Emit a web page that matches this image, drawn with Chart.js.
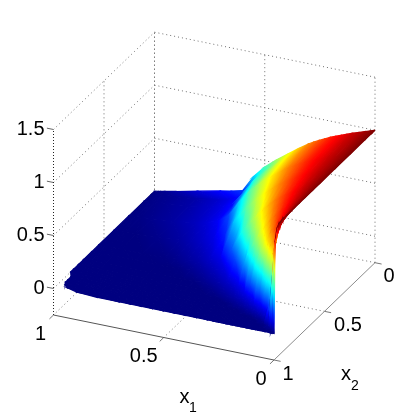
<!DOCTYPE html>
<html>
<head>
<meta charset="utf-8">
<style>
  html, body { margin: 0; padding: 0; background: #fff; }
  canvas { display: block; }
</style>
<script src="https://cdn.jsdelivr.net/npm/chart.js@4/dist/chart.umd.min.js"></script>
</head>
<body>
<canvas id="chart" width="415" height="418"></canvas>
<script>
// Tick labels
const x1Ticks = [0, 0.5, 1];
const x2Ticks = [0, 0.5, 1];
const zTicks = [0, 0.5, 1, 1.5];
const zBottom = -0.25;
const zTop = 1.5;

// Surface samples
const x1Values = [0, 0.01, 0.02, 0.04, 0.07, 0.1, 0.125, 0.15, 0.175, 0.2, 0.225, 0.25, 0.275, 0.3, 0.35, 0.4, 0.45, 0.5, 0.55, 0.6, 0.65, 0.7, 0.8, 0.9, 0.95, 0.97, 0.98, 1];
const x2Values = [0, 0.03, 0.1, 0.25, 0.4, 0.55, 0.62, 0.7, 0.75, 0.8, 0.83, 0.87, 0.9, 0.92, 0.95, 0.97, 0.99, 1];

// one row per x2 value, one column per x1 value; null = outside the rounded corner
const zRow00 = [1, 0.993, 0.986, 0.972, 0.95, 0.93, 0.91, 0.89, 0.87, 0.85, 0.825, 0.8, 0.773, 0.745, 0.675, 0.6, 0.525, 0.44, 0.33, 0.175, 0.15, 0.13, 0.085, 0.04, 0.02, 0.012, 0.008, 0];
const zRow01 = [1, 0.993, 0.986, 0.972, 0.95, 0.93, 0.91, 0.89, 0.87, 0.85, 0.825, 0.8, 0.773, 0.745, 0.675, 0.6, 0.51, 0.42, 0.28, 0.14, 0.1, 0.075, 0.04, 0.02, 0.012, 0.009, 0.007, 0];
const zRow02 = [1, 0.993, 0.986, 0.972, 0.949, 0.93, 0.909, 0.888, 0.868, 0.848, 0.823, 0.797, 0.769, 0.741, 0.67, 0.593, 0.502, 0.41, 0.27, 0.135, 0.097, 0.072, 0.038, 0.019, 0.011, 0.008, 0.006, 0];
const zRow03 = [1, 0.993, 0.985, 0.97, 0.948, 0.926, 0.904, 0.884, 0.863, 0.84, 0.813, 0.786, 0.757, 0.723, 0.648, 0.566, 0.467, 0.34, 0.19, 0.115, 0.083, 0.06, 0.032, 0.013, 0.005, 0.003, 0.002, 0];
const zRow04 = [1, 0.992, 0.983, 0.966, 0.942, 0.915, 0.891, 0.867, 0.842, 0.812, 0.78, 0.747, 0.707, 0.664, 0.57, 0.463, 0.33, 0.15, 0.097, 0.07, 0.05, 0.033, 0.012, 0, 0, 0, 0, 0];
const zRow05 = [1, 0.99, 0.98, 0.96, 0.93, 0.894, 0.865, 0.833, 0.796, 0.756, 0.709, 0.657, 0.6, 0.537, 0.4, 0.2, 0.098, 0.067, 0.041, 0.026, 0.013, 0.004, 0, 0, 0, 0, 0, 0];
const zRow06 = [1, 0.988, 0.977, 0.953, 0.916, 0.876, 0.841, 0.799, 0.753, 0.696, 0.635, 0.566, 0.49, 0.41, 0.18, 0.09, 0.056, 0.032, 0.016, 0.004, 0, 0, 0, 0, 0, 0, 0, 0];
const zRow07 = [1, 0.986, 0.971, 0.943, 0.895, 0.846, 0.795, 0.737, 0.665, 0.586, 0.494, 0.396, 0.25, 0.13, 0.07, 0.037, 0.017, 0.002, 0, 0, 0, 0, 0, 0, 0, 0, 0, 0];
const zRow08 = [1, 0.983, 0.966, 0.933, 0.875, 0.809, 0.744, 0.658, 0.56, 0.452, 0.32, 0.135, 0.094, 0.064, 0.032, 0.01, 0, 0, 0, 0, 0, 0, 0, 0, 0, 0, 0, 0];
const zRow09 = [1, 0.98, 0.958, 0.916, 0.844, 0.752, 0.648, 0.526, 0.384, 0.175, 0.094, 0.06, 0.038, 0.023, 0.002, 0, 0, 0, 0, 0, 0, 0, 0, 0, 0, 0, 0, 0];
const zRow10 = [1, 0.975, 0.951, 0.897, 0.804, 0.672, 0.528, 0.34, 0.125, 0.073, 0.042, 0.024, 0.009, 0.001, 0, 0, 0, 0, 0, 0, 0, 0, 0, 0, 0, 0, 0, 0];
const zRow11 = [1, 0.966, 0.933, 0.858, 0.7, 0.465, 0.15, 0.07, 0.033, 0.012, 0.001, 0, 0, 0, 0, 0, 0, 0, 0, 0, 0, 0, 0, 0, 0, 0, 0, null];
const zRow12 = [1, 0.953, 0.904, 0.781, 0.48, 0.09, 0.033, 0.005, 0, 0, 0, 0, 0, 0, 0, 0, 0, 0, 0, 0, 0, 0, 0, 0, 0, 0, 0, null];
const zRow13 = [1, 0.936, 0.865, 0.655, 0.11, 0.018, 0, 0, 0, 0, 0, 0, 0, 0, 0, 0, 0, 0, 0, 0, 0, 0, 0, 0, 0, 0, 0, null];
const zRow14 = [0.995, 0.895, 0.76, 0.23, 0.005, 0, 0, 0, 0, 0, 0, 0, 0, 0, 0, 0, 0, 0, 0, 0, 0, 0, 0, 0, 0, 0, null, null];
const zRow15 = [0.97, 0.81, 0.52, 0.022, 0, 0, 0, 0, 0, 0, 0, 0, 0, 0, 0, 0, 0, 0, 0, 0, 0, 0, 0, 0, 0, null, null, null];
const zRow16 = [0.85, 0.09, 0, 0, 0, 0, 0, 0, 0, 0, 0, 0, 0, 0, 0, 0, 0, 0, 0, 0, 0, 0, 0, 0, null, null, null, null];
const zRow17 = [0, 0, 0, 0, 0, 0, 0, 0, 0, 0, 0, 0, 0, 0, 0, 0, 0, 0, 0, 0, 0, 0, 0, null, null, null, null, null];
const zRows = [zRow00, zRow01, zRow02, zRow03, zRow04, zRow05, zRow06, zRow07, zRow08, zRow09, zRow10, zRow11, zRow12, zRow13, zRow14, zRow15, zRow16, zRow17];

// Fixed view of the box: where the front bottom corner lands and how each axis runs
function project(x1, x2, z) {
    const v = 1 - x2;
    return {
        x: 274 - 220.5 * x1 + 101 * v,
        y: 360 - 45 * x1 - 97.3 * v - 106 * (z - zBottom)
    };
}

// MATLAB jet colormap
function jet(c) {
    const ramp = (a, b) => Math.min(1, Math.max(0, (c - a) / (b - a)));
    const r = c < 0.875 ? ramp(0.375, 0.625) : 1 - 0.5 * ramp(0.875, 1);
    const g = c < 0.625 ? ramp(0.125, 0.375) : 1 - ramp(0.625, 0.875);
    const b = c < 0.375 ? 0.5 + 0.5 * ramp(0, 0.125) : 1 - ramp(0.375, 0.625);
    return `rgb(${Math.round(r * 255)},${Math.round(g * 255)},${Math.round(b * 255)})`;
}

// Linear gradient that reproduces the colour field over one triangle
function triangleShade(context) {
    const ds = context.dataset;
    if (ds.shadeCache) return ds.shadeCache;
    const c = ds.shade;
    const low = Math.min(...c), high = Math.max(...c);
    const { x: xScale, y: yScale } = context.chart.scales;
    const p = ds.data.slice(0, 3).map(d => [xScale.getPixelForValue(d.x), yScale.getPixelForValue(d.y)]);
    // scales have no size yet on the first pass
    if (!p.every(q => isFinite(q[0]) && isFinite(q[1]))) return jet((low + high) / 2);

    const dx1 = p[1][0] - p[0][0], dy1 = p[1][1] - p[0][1];
    const dx2 = p[2][0] - p[0][0], dy2 = p[2][1] - p[0][1];
    const dc1 = c[1] - c[0], dc2 = c[2] - c[0];
    const det = dx1 * dy2 - dx2 * dy1;
    if (Math.abs(det) < 1e-6 || high - low < 1e-4) {
        ds.shadeCache = jet((low + high) / 2);
        return ds.shadeCache;
    }
    const gx = (dc1 * dy2 - dc2 * dy1) / det;
    const gy = (dx1 * dc2 - dx2 * dc1) / det;
    const g2 = gx * gx + gy * gy;
    const start = p[c.indexOf(low)];
    const len = (high - low) / g2;
    const gradient = context.chart.ctx.createLinearGradient(start[0], start[1], start[0] + gx * len, start[1] + gy * len);
    const steps = 10;
    for (let i = 0; i <= steps; i++) {
        gradient.addColorStop(i / steps, jet(low + (high - low) * i / steps));
    }
    ds.shadeCache = gradient;
    return gradient;
}

function surfaceTriangle(corners) {
    if (corners.some(k => zRows[k[1]][k[0]] === null)) return null;
    const pts = corners.map(k => project(x1Values[k[0]], x2Values[k[1]], zRows[k[1]][k[0]]));
    return {
        data: [pts[0], pts[1], pts[2], pts[0]],
        shade: corners.map(k => zRows[k[1]][k[0]]),
        showLine: true,
        fill: 'shape',
        tension: 0,
        pointRadius: 0,
        borderWidth: 1.2,
        borderColor: triangleShade,
        backgroundColor: triangleShade
    };
}

function boxLine(a, b, color, dash) {
    return {
        data: [a, b],
        showLine: true,
        fill: false,
        tension: 0,
        pointRadius: 0,
        borderWidth: 1,
        borderColor: color,
        borderDash: dash
    };
}

// First dataset is painted last, so the surface goes nearest-first and the box after it
const datasets = [];
for (let i = 0; i < x1Values.length - 1; i++) {
    for (let j = x2Values.length - 2; j >= 0; j--) {
        const near = surfaceTriangle([[i + 1, j], [i + 1, j + 1], [i, j + 1]]);
        const far = surfaceTriangle([[i, j], [i + 1, j], [i, j + 1]]);
        if (near) datasets.push(near);
        if (far) datasets.push(far);
    }
}

const gridColor = '#707070';
const gridDash = [1, 3];

// axes and tick marks
datasets.push(boxLine(project(1, 1, zBottom), project(0, 1, zBottom), '#555555', []));
datasets.push(boxLine(project(0, 1, zBottom), project(0, 0, zBottom), '#8c8c8c', []));
datasets.push(boxLine(project(1, 1, zBottom), project(1, 1, zTop), '#222222', [1, 2]));
zTicks.forEach(z => datasets.push(boxLine(project(1, 1, z), project(1.03, 1, z), '#666666', [])));
x1Ticks.forEach(t => datasets.push(boxLine(project(t, 1, zBottom), project(t, 1.04, zBottom), '#777777', [])));
x2Ticks.forEach(t => datasets.push(boxLine(project(0, t, zBottom), project(-0.03, t, zBottom), '#777777', [])));

// grid on the two back walls and the floor
zTicks.forEach(z => {
    datasets.push(boxLine(project(1, 1, z), project(1, 0, z), gridColor, gridDash));
    datasets.push(boxLine(project(1, 0, z), project(0, 0, z), gridColor, gridDash));
});
x1Ticks.forEach(t => {
    datasets.push(boxLine(project(t, 0, zBottom), project(t, 0, zTop), gridColor, gridDash));
    if (t > 0) datasets.push(boxLine(project(t, 0, zBottom), project(t, 1, zBottom), gridColor, gridDash));
});
x2Ticks.forEach(t => {
    if (t < 1) {
        datasets.push(boxLine(project(1, t, zBottom), project(1, t, zTop), gridColor, gridDash));
        datasets.push(boxLine(project(0, t, zBottom), project(1, t, zBottom), gridColor, gridDash));
    }
});

// Tick and axis labels
const labelPlugin = {
    id: 'boxLabels',
    afterDraw(chart) {
        const { ctx, scales } = chart;
        const at = p => ({ x: scales.x.getPixelForValue(p.x), y: scales.y.getPixelForValue(p.y) });
        ctx.save();
        ctx.fillStyle = '#000';
        ctx.font = '20px "Liberation Sans", Arial, sans-serif';
        ctx.textBaseline = 'middle';

        ctx.textAlign = 'right';
        zTicks.forEach(z => {
            const p = at(project(1, 1, z));
            ctx.fillText(String(z), 44.5, p.y);
        });

        ctx.textAlign = 'center';
        x1Ticks.forEach(t => {
            const p = at(project(t, 1, zBottom));
            const dx = t === 0.5 ? -20 : -13;
            ctx.fillText(String(t), p.x + dx, p.y + 19);
        });
        x2Ticks.forEach(t => {
            const p = at(project(0, t, zBottom));
            const dx = t === 0.5 ? 23.5 : 14;
            ctx.fillText(String(t), p.x + dx, p.y + 14);
        });

        // x with subscript
        ctx.textAlign = 'left';
        ctx.textBaseline = 'alphabetic';
        ctx.fillText('x', 179.5, 403);
        ctx.fillText('x', 341, 380);
        ctx.font = '14px "Liberation Sans", Arial, sans-serif';
        ctx.fillText('1', 189, 412);
        ctx.fillText('2', 351, 390);
        ctx.restore();
    }
};

new Chart(document.getElementById('chart').getContext('2d'), {
    type: 'scatter',
    data: { datasets: datasets },
    options: {
        responsive: false,
        animation: false,
        layout: { padding: 0 },
        plugins: {
            legend: { display: false },
            tooltip: { enabled: false },
            title: { display: false }
        },
        scales: {
            x: { type: 'linear', display: false, min: 0, max: 415 },
            y: { type: 'linear', display: false, min: 0, max: 418, reverse: true }
        }
    },
    plugins: [labelPlugin]
});
</script>
</body>
</html>
